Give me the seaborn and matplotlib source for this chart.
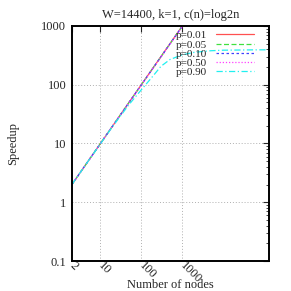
import pandas as pd
import seaborn as sns
import matplotlib.pyplot as plt
from matplotlib.ticker import LogLocator, NullLocator, FixedLocator, FixedFormatter

# data
nodes = [2, 5, 10, 20, 50, 100, 200, 300, 500, 1000, 2000, 5000, 10000, 50000, 131072]
speedup_p001 = [2, 5, 10, 20, 50, 100, 200, 299, 498, 995, 1980]
speedup_p005 = [2, 5, 10, 20, 50, 100, 199, 298, 496, 990, 1960]
speedup_p010 = [2, 5, 10, 20, 50, 99.5, 199, 297, 494, 985, 1940]
speedup_p050 = [2, 5, 10, 20, 49.5, 99, 197, 294, 488, 970, 1900]
speedup_p090 = [2, 5, 9.9, 19.6, 46, 82, 145, 205, 268, 322, 356, 378, 386, 391, 392]

labels = ["p=0.01", "p=0.05", "p=0.10", "p=0.50", "p=0.90"]
series = [speedup_p001, speedup_p005, speedup_p010, speedup_p050, speedup_p090]
colors = ["#ff5050", "#40e040", "#4040ff", "#ff40ff", "#20f0f0"]
dashes = ["-", (0, (4, 2)), (0, (2, 2)), (0, (1, 1.5)), (0, (5, 2, 1, 2))]

xticks = [2, 10, 100, 1000]
xticklabels = ["2", "10", "100", "1000"]
yticks = [0.1, 1, 10, 100, 1000]
yticklabels = ["0.1", "1", "10", "100", "1000"]

sns.set_style("white")
plt.rcParams['font.family'] = ['Liberation Serif', 'DejaVu Serif']

fig = plt.figure(figsize=(2.91, 2.91), dpi=100)
ax = fig.add_axes([0.247, 0.103, 0.677, 0.808])

for lab, ys, col, ls in zip(labels, series, colors, dashes):
    df = pd.DataFrame({"n": nodes[:len(ys)], "s": ys})
    sns.lineplot(data=df, x="n", y="s", ax=ax, color=col, linewidth=0.9,
                 linestyle=ls, label=lab)

ax.set_xscale("log")
ax.set_yscale("log")
ax.set_xlim(2, 131072)
ax.set_ylim(0.1, 1000)

ax.xaxis.set_major_locator(FixedLocator(xticks))
ax.xaxis.set_major_formatter(FixedFormatter(xticklabels))
ax.xaxis.set_minor_locator(NullLocator())
ax.yaxis.set_major_locator(FixedLocator(yticks))
ax.yaxis.set_major_formatter(FixedFormatter(yticklabels))
ax.yaxis.set_minor_locator(LogLocator(base=10, subs=range(2, 10)))

ax.grid(True, which="major", color="#b0b0b0", linestyle=(0, (1, 2)), linewidth=0.7)
ax.tick_params(which="both", direction="in", top=True, right=True, labelsize=9)
ax.tick_params(which="major", length=4, width=0.8)
ax.tick_params(which="minor", length=2, width=0.6)
ax.tick_params(axis="y", pad=4)
ax.tick_params(axis="x", pad=2)
for lbl in ax.get_xticklabels():
    lbl.set_rotation(-45)
    lbl.set_rotation_mode("anchor")
    lbl.set_ha("left")
    lbl.set_va("center")
for sp in ax.spines.values():
    sp.set_color("black")
    sp.set_linewidth(1.4)

ax.set_xlabel("Number of nodes", fontsize=9)
ax.xaxis.set_label_coords(0.5, -0.075)
ax.set_ylabel("Speedup", fontsize=9)
ax.yaxis.set_label_coords(-0.27, 0.5)
ax.set_title("W=14400, k=1, c(n)=log2n", fontsize=9, pad=6)

leg = ax.legend(loc="upper right", frameon=False, markerfirst=False, fontsize=8,
                handlelength=3.4, handletextpad=0.8, labelspacing=-0.05,
                borderaxespad=0, borderpad=0, bbox_to_anchor=(0.924, 0.98))

plt.savefig("out.png", dpi=100)
